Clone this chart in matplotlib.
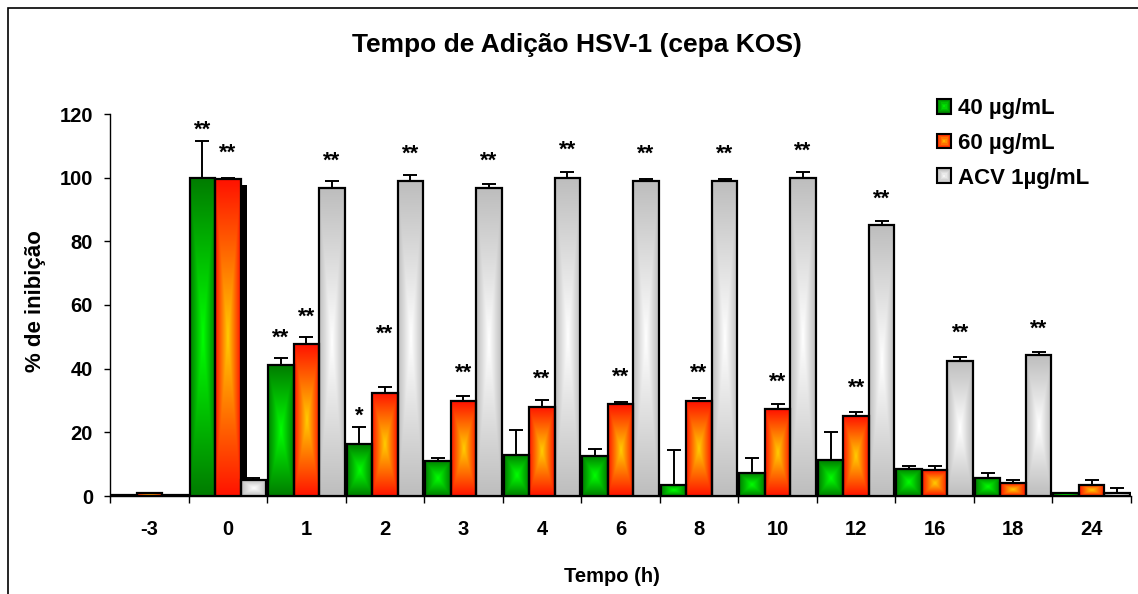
import numpy as np
import matplotlib.pyplot as plt
from matplotlib.patches import Rectangle
from matplotlib.legend_handler import HandlerBase

plt.rcParams['font.family'] = ['Liberation Sans', 'DejaVu Sans']
plt.rcParams['font.weight'] = 'bold'

times = ['-3', '0', '1', '2', '3', '4', '6', '8', '10', '12', '16', '18', '24']

c40 = [0.2, 100.0, 41.0, 16.3, 11.0, 12.9, 12.6, 3.6, 7.1, 11.3, 8.5, 5.8, 0.8]
c40_err = [0, 11.6, 2.4, 5.3, 0.9, 7.7, 2.2, 10.7, 4.9, 8.9, 0.9, 1.5, 0]
c40_sig = ['', '**', '**', '*', '', '', '', '', '', '', '', '', '']
c40_sig_y = [None, 115.9, 50.4, 26.1, None, None, None, None, None, None, None, None, None]

c60 = [1.0, 99.5, 47.6, 32.5, 29.8, 28.1, 28.8, 29.8, 27.2, 25.1, 8.1, 4.0, 3.6]
c60_err = [0, 0.3, 2.3, 1.8, 1.6, 2.0, 0.8, 0.9, 1.8, 1.3, 1.3, 1.1, 1.5]
c60_sig = ['', '**', '**', '**', '**', '**', '**', '**', '**', '**', '', '', '']
c60_sig_y = [None, 108.7, 57.2, 51.6, 39.6, 37.5, 38.2, 39.6, 36.7, 34.9, None, None, None]

acv = [0.2, 5.0, 96.7, 98.9, 96.7, 99.9, 98.9, 98.9, 99.9, 85.0, 42.5, 44.2, 1.0]
acv_err = [0, 0.6, 2.4, 1.8, 1.4, 1.8, 0.8, 0.6, 1.8, 1.3, 1.1, 0.9, 1.6]
acv_sig = ['', '', '**', '**', '**', '**', '**', '**', '**', '**', '**', '**', '']
acv_sig_y = [None, None, 106.0, 108.2, 105.9, 109.4, 108.2, 108.2, 109.2, 94.2, 51.9, 53.4, None]

# stray black block drawn behind the ACV bar at t=0
shadow_height = 97.7

labels = ['40 µg/mL', '60 µg/mL', 'ACV 1µg/mL']
edges = [(0, 125, 0), (255, 20, 0), (190, 190, 190)]
centers = [(0, 255, 0), (255, 205, 0), (255, 255, 255)]


def gradient(edge, center, n=64):
    u = np.abs(np.linspace(-1, 1, n))
    t = np.maximum(u[None, :], u[:, None])
    e = np.array(edge) / 255
    c = np.array(center) / 255
    return c + (e - c) * t[..., None]


class Swatch:
    def __init__(self, edge, center):
        self.edge = np.array(edge) / 255
        self.center = np.array(center) / 255


class SwatchHandler(HandlerBase):
    def create_artists(self, legend, orig_handle, xdescent, ydescent,
                       width, height, fontsize, trans):
        arts = []
        steps = 6
        for i in range(steps):
            f = i / steps
            col = orig_handle.edge + (orig_handle.center - orig_handle.edge) * f
            dx = width * f / 2
            dy = height * f / 2
            r = Rectangle((-xdescent + dx, -ydescent + dy), width - 2 * dx, height - 2 * dy,
                          facecolor=col, edgecolor='none', transform=trans)
            arts.append(r)
        arts.append(Rectangle((-xdescent, -ydescent), width, height, facecolor='none',
                              edgecolor='black', linewidth=1.5, transform=trans))
        return arts


W, H = 1138, 594
fig = plt.figure(figsize=(W / 100, H / 100), dpi=100)
ax = fig.add_axes([110 / W, 98 / H, 1021 / W, 382 / H])

x = np.arange(len(times))
w = 0.325

series = [
    (c40, c40_err, c40_sig, c40_sig_y),
    (c60, c60_err, c60_sig, c60_sig_y),
    (acv, acv_err, acv_sig, acv_sig_y),
]

ax.bar(1 + 0.2, shadow_height, width=0.077, color='black', zorder=1.5)

for k, (vals, errs, sig, sig_y) in enumerate(series):
    off = (k - 1) * w
    img = gradient(edges[k], centers[k])
    for xi, v in zip(x, vals):
        ax.imshow(img, extent=[xi + off - w / 2, xi + off + w / 2, 0, v], origin='lower',
                  aspect='auto', interpolation='bilinear', zorder=2)
    ax.bar(x + off, vals, width=w, fill=False, edgecolor='black', linewidth=1.6, zorder=3)
    vals = np.array(vals)
    errs = np.array(errs)
    m = errs > 0
    ax.errorbar(x[m] + off, vals[m], yerr=[np.zeros(m.sum()), errs[m]], fmt='none',
                ecolor='black', elinewidth=1.4, capsize=5, capthick=1.4, zorder=4)
    for xi, s, sy in zip(x, sig, sig_y):
        if s:
            ax.annotate(s, (xi + off, sy), xytext=(0, -6), textcoords='offset points',
                        ha='center', va='baseline', fontsize=16, fontweight='bold')

ax.set_xlim(-0.5, len(times) - 0.5)
ax.set_ylim(0, 120)
ax.set_yticks(range(0, 121, 20))
ax.set_xticks(x, times)
ax.set_xticks(np.arange(len(times) + 1) - 0.5, minor=True)
ax.tick_params(axis='y', length=4.3, width=1, pad=8, labelsize=14.5)
ax.tick_params(axis='x', which='major', length=0, pad=17.5, labelsize=14.5)
ax.tick_params(axis='x', which='minor', length=5, width=1)
for s in ['top', 'right']:
    ax.spines[s].set_visible(False)
for s in ['left', 'bottom']:
    ax.spines[s].set_linewidth(1.0)

fig.text(576.5 / W, 1 - 52 / H, 'Tempo de Adição HSV-1 (cepa KOS)', ha='center',
         va='baseline', fontsize=19, fontweight='bold')
fig.text(35.5 / W, 1 - 301.5 / H, '% de inibição', rotation=90, ha='center', va='center',
         fontsize=16, fontweight='bold')
fig.text(612 / W, 1 - 576 / H, 'Tempo (h)', ha='center', va='center',
         fontsize=14.5, fontweight='bold')

handles = [Swatch(edges[k], centers[k]) for k in range(3)]
ax.legend(handles, labels, handler_map={Swatch: SwatchHandler()}, loc='upper left',
          bbox_to_anchor=(937 / W, 1 - 98 / H), bbox_transform=fig.transFigure,
          frameon=False, borderpad=0, borderaxespad=0, handlelength=0.65,
          handleheight=0.65, handletextpad=0.3, labelspacing=0.62,
          prop={'size': 16, 'weight': 'bold'})

# outer chart frame (runs off the right and bottom edges)
fig.add_artist(Rectangle((8 / W, -0.1), 1.2, 1.1 - 8 / H, transform=fig.transFigure,
                         fill=False, edgecolor='black', linewidth=1.2))

fig.savefig('out.png', dpi=100)
